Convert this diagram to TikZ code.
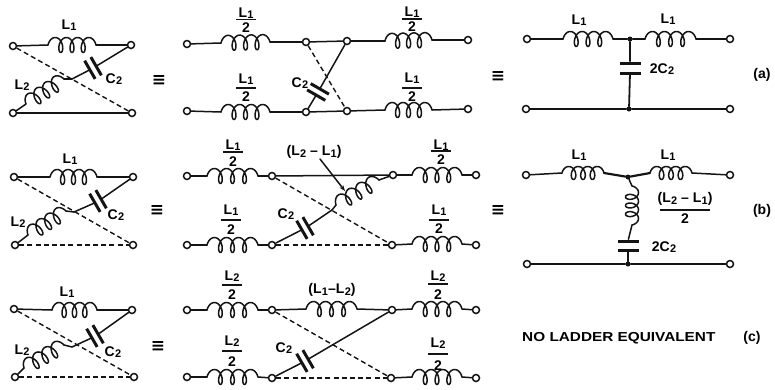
\documentclass[tikz,border=0pt]{standalone}
\usepackage{fontspec}
\setmainfont{Liberation Sans}
\newfontfamily\symf{DejaVu Sans}
\usetikzlibrary{arrows.meta}
\newcommand\Lb[2]{#1\kern.3pt\raisebox{-1.5pt}{\fontsize{11}{11}\selectfont #2}}
\tikzset{
 wire/.style={line width=1.5pt,black!92,line cap=round,line join=round},
 dash wire/.style={line width=1.4pt,black!92,dash pattern=on 5pt off 3.2pt},
 term/.style={circle,draw=black!92,line width=1.5pt,fill=white,inner sep=0pt,minimum size=7pt},
 jdot/.style={circle,fill=black!92,inner sep=0pt,minimum size=5pt},
 plate/.style={rectangle,fill=black!92,inner sep=0pt,minimum width=21pt,minimum height=3pt},
 fbar/.style={rectangle,fill=black!92,inner sep=0pt,minimum width=20pt,minimum height=1.3pt},
 lab/.style={inner sep=0pt,font=\fontsize{14}{14}\selectfont\bfseries},
 eqv/.style={inner sep=0pt,font=\fontsize{17}{17}\selectfont\symf\bfseries},
}
% coil (left end to right end) with its loops hanging to the right of the direction of travel
\newcommand\ind[6][7.5]{\coordinate (#2s) at (#3,#4);\coordinate (#2e) at (#5,#6);%
 \pgfmathsetmacro\cL{veclen(#5-#3,#6-#4)}%
 \pgfmathsetmacro\cA{atan2(-(#6-#4),#5-#3)}%
 \pgfmathsetmacro\cb{4.4}%
 \pgfmathsetmacro\cv{(\cL-2*\cb)/1260}%
 \begin{scope}[shift={(#3,#4)},rotate=\cA]
 \draw[wire,smooth] plot[domain=-90:1170,samples=110,variable=\t]
   ({\cv*(\t+90)+\cb+\cb*sin(\t)},{-#1*cos(\t)});
 \end{scope}}
% capacitor: two plates about a centre, wire direction in degrees
\newcommand\capn[5][3.6]{%
 \pgfmathsetmacro\capdx{#1*cos(#5)}\pgfmathsetmacro\capdy{-#1*sin(#5)}%
 \pgfmathsetmacro\caprot{#5+90}%
 \node[plate,rotate=\caprot] (#2a) at (#3+\capdx,#4+\capdy) {};
 \node[plate,rotate=\caprot] (#2b) at (#3-\capdx,#4-\capdy) {};}
% fraction label
\newcommand\frc[6]{\node[lab] (#1t) at (#2,#3) {#6};\node[fbar] (#1m) at (#2,#4) {};\node[lab] (#1n) at (#2,#5) {2};}
\begin{document}
\begin{tikzpicture}[x=1pt,y=-1pt]
\useasboundingbox (0,0) rectangle (775,389);
% ===== ROW a =====
\node[term] (a1) at (13,46) {}; \node[term] (b1) at (131,45) {};
\node[term] (c1) at (13,113) {}; \node[term] (d1) at (132,113) {};
\ind{A}{48}{45}{96}{45}
\draw[wire] (a1) -- (As); \draw[wire] (Ae) -- (b1);
\capn{AC}{93}{68}{30}
\coordinate (AJ) at (72,79);
\ind{B}{26}{104}{64}{79}
\draw[wire] (b1) -- (ACa); \draw[wire] (ACb) -- (AJ); \draw[wire] (AJ) -- (Be); \draw[wire] (Bs) -- (c1);
\draw[wire] (c1) -- (d1);
\draw[dash wire] (a1) -- (d1);
\node[lab] (t1) at (69,25) {\Lb{L}{1}};
\node[lab] (t2) at (22,85) {\Lb{L}{2}};
\node[lab] (t3) at (114,79) {\Lb{C}{2}};
\node[eqv] (e1) at (159,80) {≡};
% middle
\node[term] (a2) at (187,44) {}; \node[term] (c2) at (187,111) {};
\node[term] (m1) at (306,42) {}; \node[term] (m2) at (347,41) {};
\node[term] (m3) at (306,112) {}; \node[term] (m4) at (347,111) {};
\node[term] (r1) at (468,40) {}; \node[term] (r2) at (468,109) {};
\ind{C}{221}{43}{270}{42} \ind{D}{221}{112}{270}{112}
\ind{E}{385}{41}{432}{40} \ind{F}{385}{110}{432}{110}
\draw[wire] (a2) -- (Cs); \draw[wire] (Ce) -- (m1); \draw[wire] (m1) -- (m2); \draw[wire] (m2) -- (Es); \draw[wire] (Ee) -- (r1);
\draw[wire] (c2) -- (Ds); \draw[wire] (De) -- (m3); \draw[wire] (m3) -- (m4); \draw[wire] (m4) -- (Fs); \draw[wire] (Fe) -- (r2);
\capn{BC}{318}{92}{60}
\draw[wire] (m2) -- (BCa); \draw[wire] (BCb) -- (m3);
\draw[dash wire] (m1) -- (m4);
\frc{f1}{246}{13}{19.5}{28}{\Lb{L}{1}}
\frc{f2}{246}{79}{88}{97}{\Lb{L}{1}}
\frc{f3}{412}{12}{19}{27}{\Lb{L}{1}}
\frc{f4}{412}{78}{88}{97}{\Lb{L}{1}}
\node[lab] (t4) at (300,83) {\Lb{C}{2}};
\node[eqv] (e2) at (498,76) {≡};
% right
\node[term] (a3) at (527,39) {}; \node[term] (b3) at (730,39) {};
\node[term] (c3) at (526,109) {}; \node[term] (d3) at (730,109) {};
\node[jdot] (j3) at (630,39) {}; \node[jdot] (k3) at (629,109) {};
\ind{G}{563}{39}{613}{39} \ind{H}{645}{39}{696}{39}
\draw[wire] (a3) -- (Gs); \draw[wire] (Ge) -- (j3); \draw[wire] (j3) -- (Hs); \draw[wire] (He) -- (b3);
\draw[wire] (c3) -- (k3); \draw[wire] (k3) -- (d3);
\node[plate] (P1) at (630,63) {}; \node[plate] (P2) at (630,73) {};
\draw[wire] (j3) -- (P1); \draw[wire,line width=1.8pt] (P2) -- (k3);
\node[lab] (t5) at (579,20) {\Lb{L}{1}};
\node[lab] (t6) at (668,19) {\Lb{L}{1}};
\node[lab] (t7) at (662,69) {2\Lb{C}{2}};
\node[lab] (t8) at (762,75) {(a)};
% ===== ROW b =====
\node[term] (a4) at (14,177) {}; \node[term] (b4) at (133,177) {};
\node[term] (c4) at (15,245) {}; \node[term] (d4) at (133,245) {};
\ind{I}{50}{177}{97}{177}
\draw[wire] (a4) -- (Is); \draw[wire] (Ie) -- (b4);
\capn{CC}{98}{201}{30}
\coordinate (CJ) at (74,212);
\ind{J}{28}{235}{66}{211}
\draw[wire] (b4) -- (CCa); \draw[wire] (CCb) -- (CJ); \draw[wire] (CJ) -- (Je); \draw[wire] (Js) -- (c4);
\draw[dash wire] (c4) -- (d4); \draw[dash wire] (a4) -- (d4);
\node[lab] (t9) at (18,222) {\Lb{L}{2}};
\node[lab] (t10) at (70,159) {\Lb{L}{1}};
\node[lab] (t11) at (116,215) {\Lb{C}{2}};
\node[eqv] (e3) at (157,210) {≡};
% middle
\node[term] (a5) at (187,176) {}; \node[term] (c5) at (187,245) {};
\node[term] (m5) at (272,176) {}; \node[term] (m6) at (393,175) {};
\node[term] (m7) at (272,245) {}; \node[term] (m8) at (392,245) {};
\node[term] (r5) at (476,175) {}; \node[term] (r6) at (476,245) {};
\ind{K}{207}{176}{258}{176} \ind{M}{207}{245}{258}{245}
\ind{N}{412}{175}{462}{175} \ind{O}{412}{244}{462}{244}
\draw[wire] (a5) -- (Ks); \draw[wire] (Ke) -- (m5); \draw[wire] (m5) -- (m6); \draw[wire] (m6) -- (Ns); \draw[wire] (Ne) -- (r5);
\draw[wire] (c5) -- (Ms); \draw[wire] (Me) -- (m7); \draw[wire] (m8) -- (Os); \draw[wire] (Oe) -- (r6);
\draw[dash wire] (m7) -- (m8); \draw[dash wire] (m5) -- (m8);
\ind{Q}{336}{205}{379}{180}
\capn{DC}{305}{228}{30}
\coordinate (DJ) at (332,210);
\draw[wire] (m6) -- (Qe); \draw[wire] (Qs) -- (DJ); \draw[wire] (DJ) -- (DCa); \draw[wire] (DCb) -- (m7);
\node[lab] (t12) at (314,152) {(\Lb{L}{2} -- \Lb{L}{1})};
\coordinate (ar1) at (320,159); \coordinate (ar2) at (345,191);
\draw[wire,-{Stealth[length=6pt,width=4.5pt]}] (ar1) -- (ar2);
\node[lab] (t13) at (286,214) {\Lb{C}{2}};
\frc{f5}{233}{145}{152}{162}{\Lb{L}{1}}
\frc{f6}{231}{210}{220}{230}{\Lb{L}{1}}
\frc{f7}{441}{145}{151}{160}{\Lb{L}{1}}
\frc{f8}{439}{210}{220}{229}{\Lb{L}{1}}
\node[eqv] (e4) at (498,210) {≡};
% right
\node[term] (a6) at (526,175) {}; \node[term] (b6) at (730,175) {};
\node[term] (c6) at (527,264) {}; \node[term] (d6) at (730,264) {};
\node[jdot] (j6) at (628,177) {}; \node[jdot] (k6) at (628,264) {};
\ind[6.5]{R}{562}{173}{604}{173} \ind[6.5]{S}{650}{173}{692}{173}
\ind[6.5]{T}{632}{186}{632}{225}
\draw[wire] (a6) -- (Rs); \draw[wire,line width=2.2pt] (Re) -- (j6); \draw[wire,line width=2.2pt] (j6) -- (Ss); \draw[wire] (Se) -- (b6);
\draw[wire] (c6) -- (k6); \draw[wire] (k6) -- (d6);
\node[plate] (P3) at (628,241) {}; \node[plate] (P4) at (628,250) {};
\draw[wire] (j6) -- (Ts); \draw[wire] (Te) -- (P3); \draw[wire,line width=1.8pt] (P4) -- (k6);
\node[lab] (t14) at (579,155) {\Lb{L}{1}};
\node[lab] (t15) at (668,155) {\Lb{L}{1}};
\node[lab] (t16) at (685,199) {(\Lb{L}{2} -- \Lb{L}{1})};
\node[fbar,minimum width=50pt] (t17) at (685,210) {};
\node[lab] (t18) at (685,219) {2};
\node[lab] (t19) at (664,247) {2\Lb{C}{2}};
\node[lab] (t20) at (762,211) {(b)};
% ===== ROW c =====
\node[term] (a7) at (14,309) {}; \node[term] (b7) at (132,310) {};
\node[term] (c7) at (15,377) {}; \node[term] (d7) at (134,377) {};
\ind{U}{52}{310}{97}{310}
\draw[wire] (a7) -- (Us); \draw[wire] (Ue) -- (b7);
\capn{EC}{95}{336}{30}
\coordinate (EJ) at (72,347);
\ind{V}{24}{368}{64}{345}
\draw[wire] (b7) -- (ECa); \draw[wire] (ECb) -- (EJ); \draw[wire] (EJ) -- (Ve); \draw[wire] (Vs) -- (c7);
\draw[dash wire] (c7) -- (d7); \draw[dash wire] (a7) -- (d7);
\node[lab] (t21) at (67,292) {\Lb{L}{1}};
\node[lab] (t22) at (22,350) {\Lb{L}{2}};
\node[lab] (t23) at (113,352) {\Lb{C}{2}};
\node[eqv] (e5) at (158,346) {≡};
% middle
\node[term] (a8) at (187,310) {}; \node[term] (c8) at (187,377) {};
\node[term] (m9) at (272,310) {}; \node[term] (m10) at (392,310) {};
\node[term] (m11) at (272,378) {}; \node[term] (m12) at (391,378) {};
\node[term] (r9) at (476,310) {}; \node[term] (r10) at (476,378) {};
\ind{W}{207}{310}{258}{310} \ind{X}{207}{377}{258}{377}
\ind{Y}{306}{309}{357}{309} \ind{Z}{412}{309}{462}{309} \ind{ZZ}{412}{377}{462}{377}
\draw[wire] (a8) -- (Ws); \draw[wire] (We) -- (m9); \draw[wire] (m9) -- (Ys); \draw[wire] (Ye) -- (m10); \draw[wire] (m10) -- (Zs); \draw[wire] (Ze) -- (r9);
\draw[wire] (c8) -- (Xs); \draw[wire] (Xe) -- (m11); \draw[wire] (m12) -- (ZZs); \draw[wire] (ZZe) -- (r10);
\draw[dash wire] (m11) -- (m12); \draw[dash wire] (m9) -- (m12);
\capn{FC}{305}{361}{30}
\draw[wire] (m10) -- (FCa); \draw[wire] (FCb) -- (m11);
\node[lab] (t24) at (332,290) {(\Lb{L}{1}--\Lb{L}{2})};
\node[lab] (t25) at (284,348) {\Lb{C}{2}};
\frc{f9}{232}{276}{285}{295}{\Lb{L}{2}}
\frc{f10}{232}{341}{351}{362}{\Lb{L}{2}}
\frc{f11}{438}{276}{284}{295}{\Lb{L}{2}}
\frc{f12}{438}{343}{354}{366}{\Lb{L}{2}}
\node[lab,font=\fontsize{13}{13}\selectfont\bfseries,anchor=west,xscale=1.18] (t26) at (522,338) {NO LADDER EQUIVALENT};
\node[lab] (t27) at (752,338) {(c)};
\end{tikzpicture}
\end{document}
